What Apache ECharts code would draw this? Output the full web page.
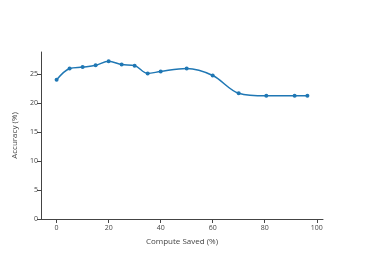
<!DOCTYPE html>
<html><head><meta charset="utf-8">
<script src="https://cdn.jsdelivr.net/npm/echarts@6/dist/echarts.min.js"></script>
<style>html,body{margin:0;padding:0;background:#fff}#c{width:366px;height:261px}</style>
</head><body><div id="c"></div>
<script>
const computeSaved = [0, 5, 10, 15, 20, 25, 30, 35, 40, 50, 60, 70, 80.6, 91.5, 96.4];
const accuracy = [24.0, 25.95, 26.2, 26.5, 27.2, 26.65, 26.45, 25.1, 25.45, 25.95, 24.75, 21.7, 21.25, 21.25, 21.25];
const xTicks = [0, 20, 40, 60, 80, 100];
const yTicks = [0, 5, 10, 15, 20, 25];

const chart = echarts.init(document.getElementById('c'), null, {renderer: 'canvas'});
const font = '"Open Sans", Verdana, sans-serif';
const axisCommon = {
  axisLine: {show: true, onZero: false, lineStyle: {color: '#444', width: 1}},
  splitLine: {show: false},
  nameTextStyle: {color: '#444', fontFamily: font, fontSize: 8},
};
chart.setOption({
  animation: false,
  grid: {left: 41, right: 43, top: 52, bottom: 42},
  xAxis: Object.assign({}, axisCommon, {
    type: 'value', min: -6, max: 102.4,
    name: 'Compute Saved (%)', nameLocation: 'middle', nameGap: 19,
    axisTick: {show: true, length: 4, lineStyle: {color: '#444'}, customValues: xTicks},
    axisLabel: {color: '#444', fontFamily: font, fontSize: 7, margin: 5, customValues: xTicks},
  }),
  yAxis: Object.assign({}, axisCommon, {
    type: 'value', min: 0, max: 28.8,
    name: 'Accuracy (%)', nameLocation: 'middle', nameGap: 20, nameRotate: 90,
    axisTick: {show: true, length: 4, lineStyle: {color: '#444'}, customValues: yTicks},
    axisLabel: {color: '#444', fontFamily: font, fontSize: 7, margin: 3, customValues: yTicks},
  }),
  series: [{
    type: 'line',
    data: computeSaved.map((x, i) => [x, accuracy[i]]),
    smooth: 0.35,
    symbol: 'circle', symbolSize: 4,
    lineStyle: {color: '#1f77b4', width: 1.5},
    itemStyle: {color: '#1f77b4'},
  }]
});
</script></body></html>
